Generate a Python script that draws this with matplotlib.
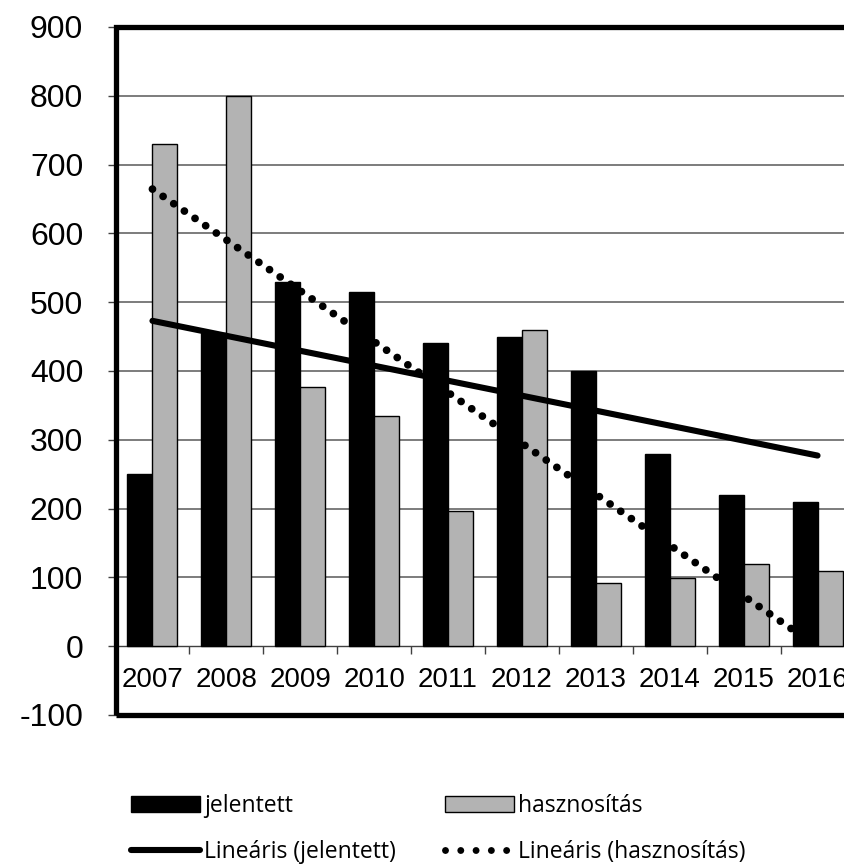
import matplotlib
matplotlib.use("Agg")
import matplotlib.pyplot as plt
import numpy as np
from matplotlib.patches import Rectangle, Patch
from matplotlib.lines import Line2D

years = ["2007", "2008", "2009", "2010", "2011", "2012", "2013", "2014", "2015", "2016"]
jelentett = [250, 455, 530, 515, 440, 450, 400, 280, 220, 210]
hasznositas = [730, 800, 377, 335, 196, 459, 92, 99, 120, 110]
yticks = list(range(-100, 1000, 100))

W, H = 844, 865
fig = plt.figure(figsize=(W / 100, H / 100), dpi=100)
left = 115.5 / W
bottom = (H - 715) / H
top = (H - 27) / H
width = 739 / W
ax = fig.add_axes([left, bottom, width, top - bottom])

for s in ["left", "top", "right"]:
    ax.spines[s].set_visible(False)
ax.spines["bottom"].set_position(("data", 0))
ax.spines["bottom"].set_color("#404040")
ax.spines["bottom"].set_linewidth(1)
ax.spines["bottom"].set_zorder(2.5)

x = np.arange(len(years))
bw = 0.338
ax.bar(x - bw / 2, jelentett, bw, color="black", edgecolor="black", linewidth=1, zorder=3)
ax.bar(x + bw / 2, hasznositas, bw, color="#b3b3b3", edgecolor="black", linewidth=1, zorder=3)

# linear trends
pj = np.polyfit(x, jelentett, 1)
ph = np.polyfit(x, hasznositas, 1)
ax.plot(x, np.polyval(pj, x), color="black", lw=4.4, solid_capstyle="round", zorder=4)
ax.plot(x, np.polyval(ph, x), color="black", lw=5.6, linestyle=(0, (0.001, 1.66)),
        dash_capstyle="round", zorder=4)

ax.set_xlim(-0.5, len(years) - 0.5)
ax.set_ylim(-100, 900)
ax.set_yticks(yticks)
ax.set_yticklabels([str(v) for v in yticks], fontfamily="Liberation Sans", fontsize=23)
ax.tick_params(axis="y", direction="out", length=5.8, width=1, color="#404040", pad=17.5)

ax.set_xticks(x)
ax.set_xticklabels(years, fontfamily="Liberation Sans", fontsize=20)
ax.set_xticks(np.arange(len(years) + 1) - 0.5, minor=True)
ax.tick_params(axis="x", which="major", length=0, pad=15)
ax.tick_params(axis="x", which="minor", direction="out", length=5.8, width=1, color="#404040")

for v in yticks:
    if 0 < v < 900:
        ax.axhline(v, color="#595959", lw=1.1, zorder=1)

ax.add_patch(Rectangle((0, 0), 1, 1, transform=ax.transAxes, fill=False,
                       edgecolor="black", lw=3.8, clip_on=False, zorder=6))

# legend
fs = 16.5
col1 = [Patch(facecolor="black", edgecolor="black", lw=1),
        Line2D([0], [0], color="black", lw=4.4, solid_capstyle="round")]
col2 = [Patch(facecolor="#b3b3b3", edgecolor="black", lw=1),
        Line2D([0], [0], color="black", lw=5, linestyle=(0, (0.001, 2.2)), dash_capstyle="round")]
kw = dict(loc="upper left", frameon=False, borderpad=0, borderaxespad=0,
          handlelength=3.0, handleheight=0.65, handletextpad=0.2, labelspacing=0.95,
          prop={"family": "Open Sans", "size": fs})
lg1 = fig.legend(col1, ["jelentett", "Lineáris (jelentett)"],
                 bbox_to_anchor=(131 / W, 1 - 794 / H), **kw)
lg2 = fig.legend(col2, ["hasznosítás", "Lineáris (hasznosítás)"],
                 bbox_to_anchor=(445 / W, 1 - 794 / H), **kw)

fig.savefig("out.png", dpi=100)
